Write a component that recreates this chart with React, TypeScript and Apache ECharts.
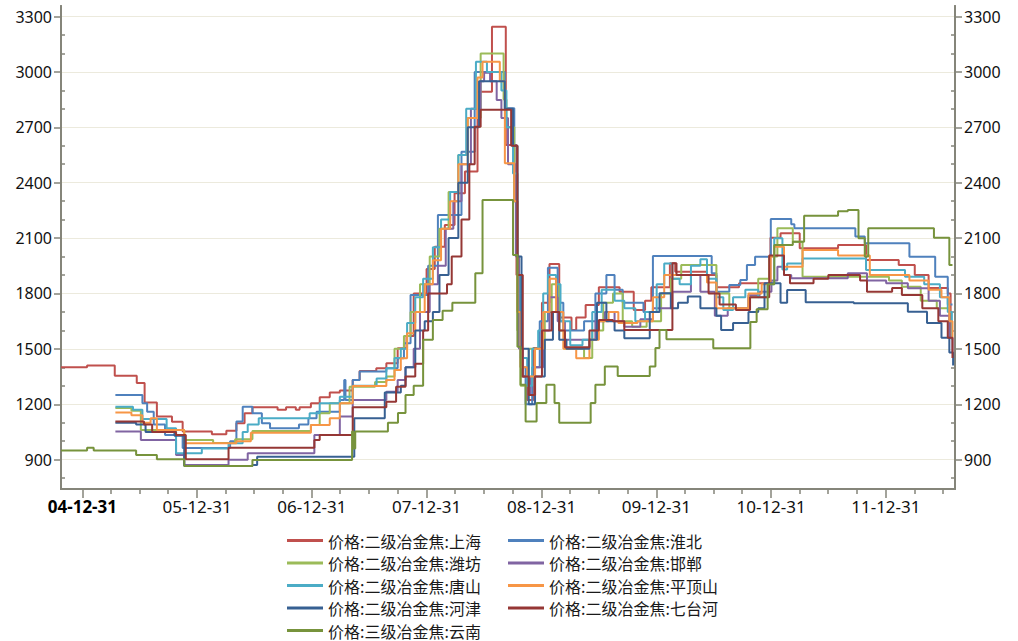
import React, { useEffect, useRef } from 'react';
import * as echarts from 'echarts';

type Pt = [string, number];

const seriesNames = [
  '价格:二级冶金焦:上海',
  '价格:二级冶金焦:淮北',
  '价格:二级冶金焦:潍坊',
  '价格:二级冶金焦:邯郸',
  '价格:二级冶金焦:唐山',
  '价格:二级冶金焦:平顶山',
  '价格:二级冶金焦:河津',
  '价格:二级冶金焦:七台河',
  '价格:三级冶金焦:云南',
];
const seriesColors = ['#C0504D', '#4F81BD', '#9BBB59', '#8064A2', '#4BACC6', '#F79646', '#376092', '#953735', '#77933C'];

const xStart = '2004-10-24';
const xEnd = '2012-08-07';
const xLabelDates = ['2004-12-31', '2005-12-31', '2006-12-31', '2007-12-31', '2008-12-31', '2009-12-31', '2010-12-31', '2011-12-31'];
const yLabelValues = [900, 1200, 1500, 1800, 2100, 2400, 2700, 3000, 3300];
const yMin = 741;
const yMax = 3357;

const shanghai: Pt[] = [
  ['2004-10-24', 1400], ['2005-01-15', 1410], ['2005-04-13', 1355], ['2005-06-22', 1315], ['2005-07-17', 1210],
  ['2005-08-25', 1133], ['2005-10-12', 1105], ['2005-11-15', 1052], ['2006-02-16', 1038], ['2006-04-03', 1057],
  ['2006-05-05', 1097], ['2006-05-31', 1151], ['2006-06-25', 1184], ['2006-09-13', 1170], ['2006-10-10', 1184],
  ['2006-11-10', 1170], ['2006-11-22', 1184], ['2006-12-28', 1205], ['2007-01-25', 1238], ['2007-02-26', 1263],
  ['2007-03-30', 1275], ['2007-05-10', 1332], ['2007-06-01', 1380], ['2007-07-24', 1395], ['2007-08-25', 1422],
  ['2007-09-30', 1503], ['2007-10-28', 1570], ['2007-11-20', 1800], ['2007-12-31', 1932], ['2008-01-26', 2053],
  ['2008-02-27', 2171], ['2008-03-29', 2343], ['2008-05-01', 2460], ['2008-06-10', 2893], ['2008-07-26', 3245],
  ['2008-09-08', 2604], ['2008-10-12', 1900], ['2008-10-28', 1350], ['2008-11-15', 1223], ['2008-12-05', 1505],
  ['2009-01-01', 1750], ['2009-01-25', 1960], ['2009-02-25', 1670], ['2009-04-05', 1602], ['2009-04-20', 1670],
  ['2009-05-20', 1738], ['2009-07-01', 1834], ['2009-09-05', 1810], ['2009-10-20', 1711], ['2009-11-25', 1760],
  ['2009-12-15', 1834], ['2010-02-12', 1964], ['2010-03-01', 1918], ['2010-06-10', 1900], ['2010-07-10', 1834],
  ['2010-09-20', 1855], ['2010-12-29', 2102], ['2011-01-30', 2126], ['2011-04-01', 2045], ['2011-08-01', 2062],
  ['2011-10-29', 1981], ['2012-02-10', 1954], ['2012-04-01', 1900], ['2012-05-15', 1830], ['2012-07-15', 1800],
  ['2012-07-24', 1560], ['2012-07-30', 1560],
];

const huaibei: Pt[] = [
  ['2005-04-15', 1250], ['2005-07-10', 1205], ['2005-07-25', 1160], ['2005-08-15', 1090], ['2005-09-20', 1034],
  ['2005-11-15', 963], ['2006-04-15', 1000], ['2006-05-05', 1106], ['2006-05-25', 1187], ['2006-06-25', 1151],
  ['2006-07-25', 1097], ['2006-08-20', 1070], ['2006-11-20', 1090], ['2006-12-20', 1124], ['2007-01-15', 1160],
  ['2007-03-30', 1223], ['2007-04-13', 1332], ['2007-04-17', 1223], ['2007-05-10', 1332], ['2007-06-01', 1377],
  ['2007-08-25', 1395], ['2007-09-30', 1449], ['2007-10-20', 1530], ['2007-11-10', 1792], ['2008-01-05', 1950],
  ['2008-02-05', 2225], ['2008-04-20', 2568], ['2008-06-01', 3000], ['2008-09-05', 2803], ['2008-10-05', 2300],
  ['2008-10-15', 1700], ['2008-10-25', 1400], ['2008-11-10', 1200], ['2008-12-01', 1400], ['2008-12-25', 1650],
  ['2009-01-20', 1940], ['2009-02-20', 1750], ['2009-03-10', 1600], ['2009-05-15', 1650], ['2009-06-20', 1800],
  ['2009-07-25', 1900], ['2009-08-20', 1820], ['2009-09-15', 1750], ['2009-11-20', 1700], ['2009-12-20', 2003],
  ['2010-06-25', 1909], ['2010-07-10', 1810], ['2010-08-20', 1846], ['2010-09-24', 1873], ['2010-10-15', 1954],
  ['2010-11-10', 1999], ['2010-12-30', 2203], ['2011-03-05', 2175], ['2011-03-15', 2153], ['2011-09-25', 2108],
  ['2011-10-25', 2072], ['2012-03-15', 1999], ['2012-06-05', 1890], ['2012-07-15', 1740], ['2012-07-30', 1740],
];

const weifang: Pt[] = [
  ['2005-04-15', 1180], ['2005-06-05', 1165], ['2005-07-05', 1060], ['2005-11-20', 1007], ['2006-02-20', 990],
  ['2006-05-01', 1010], ['2006-06-25', 1055], ['2006-12-28', 1088], ['2007-01-25', 1151], ['2007-02-26', 1205],
  ['2007-04-30', 1295], ['2007-07-20', 1320], ['2007-08-25', 1350], ['2007-09-20', 1500], ['2007-10-20', 1570],
  ['2007-11-10', 1700], ['2007-12-10', 1850], ['2008-01-10', 2000], ['2008-02-10', 2150], ['2008-03-10', 2350],
  ['2008-04-10', 2550], ['2008-05-10', 2750], ['2008-06-20', 3100], ['2008-09-01', 2850], ['2008-09-10', 2700],
  ['2008-10-05', 2300], ['2008-10-15', 1600], ['2008-10-25', 1300], ['2008-11-20', 1500], ['2009-01-10', 1700],
  ['2009-02-01', 1850], ['2009-02-25', 1600], ['2009-03-15', 1500], ['2009-05-15', 1450], ['2009-06-10', 1600],
  ['2009-07-15', 1750], ['2009-08-15', 1800], ['2009-09-15', 1650], ['2009-10-15', 1620], ['2009-11-30', 1650],
  ['2010-01-15', 1800], ['2010-02-15', 1880], ['2010-03-20', 1954], ['2010-06-20', 1954], ['2010-07-10', 1800],
  ['2010-08-20', 1720], ['2010-10-20', 1780], ['2010-11-20', 1880], ['2010-12-25', 2000], ['2011-01-20', 2153],
  ['2011-03-10', 2080], ['2011-04-10', 1891], ['2011-11-10', 1890], ['2012-01-10', 1870], ['2012-02-20', 1837],
  ['2012-04-20', 1760], ['2012-06-10', 1720], ['2012-07-20', 1650], ['2012-07-28', 1580], ['2012-07-30', 1580],
];

const handan: Pt[] = [
  ['2005-04-15', 1052], ['2005-07-05', 1007], ['2005-10-25', 925], ['2005-11-20', 871], ['2006-04-10', 900],
  ['2006-06-10', 935], ['2007-01-08', 1034], ['2007-03-30', 1133], ['2007-05-10', 1223], ['2007-08-25', 1268],
  ['2007-09-30', 1332], ['2007-10-25', 1400], ['2007-11-20', 1500], ['2007-12-10', 1700], ['2008-01-10', 1850],
  ['2008-02-05', 1950], ['2008-03-01', 2150], ['2008-03-25', 2300], ['2008-04-20', 2500], ['2008-05-20', 2800],
  ['2008-06-20', 2950], ['2008-07-01', 2995], ['2008-07-20', 2950], ['2008-08-10', 2848], ['2008-08-25', 2750],
  ['2008-09-15', 2500], ['2008-10-10', 2000], ['2008-10-20', 1500], ['2008-11-01', 1350], ['2008-11-25', 1250],
  ['2008-12-10', 1400], ['2009-01-05', 1600], ['2009-01-25', 1780], ['2009-02-20', 1650], ['2009-03-15', 1550],
  ['2009-06-20', 1650], ['2009-07-20', 1700], ['2009-08-20', 1650], ['2009-09-20', 1620], ['2009-11-10', 1660],
  ['2009-12-20', 1720], ['2010-02-20', 1810], ['2010-04-20', 1900], ['2010-05-20', 1810], ['2010-07-05', 1680],
  ['2010-08-15', 1720], ['2010-10-20', 1790], ['2010-11-25', 1810], ['2011-01-01', 1870], ['2011-01-20', 1945],
  ['2011-02-10', 1900], ['2011-03-05', 1882], ['2011-09-01', 1909], ['2011-11-01', 1870], ['2012-01-01', 1855],
  ['2012-03-10', 1828], ['2012-05-15', 1760], ['2012-06-20', 1680], ['2012-07-20', 1560], ['2012-07-30', 1480],
];

const tangshan: Pt[] = [
  ['2005-04-15', 1187], ['2005-06-10', 1170], ['2005-07-10', 1120], ['2005-09-25', 1070], ['2005-10-25', 935],
  ['2006-01-15', 960], ['2006-04-10', 989], ['2006-05-25', 1050], ['2006-06-10', 1090], ['2006-07-15', 1124],
  ['2006-12-24', 1151], ['2007-01-25', 1205], ['2007-03-30', 1240], ['2007-05-10', 1300], ['2007-07-25', 1340],
  ['2007-08-25', 1395], ['2007-09-20', 1450], ['2007-10-10', 1500], ['2007-10-30', 1640], ['2007-11-25', 1780],
  ['2007-12-20', 1880], ['2008-01-20', 2050], ['2008-02-15', 2200], ['2008-03-15', 2350], ['2008-04-10', 2550],
  ['2008-05-05', 2800], ['2008-06-05', 3055], ['2008-07-10', 3000], ['2008-08-25', 2900], ['2008-09-10', 2700],
  ['2008-10-01', 2450], ['2008-10-15', 1900], ['2008-10-25', 1450], ['2008-11-15', 1300], ['2008-12-01', 1500],
  ['2008-12-20', 1600], ['2009-01-05', 1800], ['2009-01-20', 1900], ['2009-02-15', 1850], ['2009-03-01', 1650],
  ['2009-04-01', 1520], ['2009-05-10', 1550], ['2009-06-10', 1700], ['2009-07-10', 1820], ['2009-08-20', 1760],
  ['2009-09-20', 1720], ['2009-10-25', 1650], ['2009-11-25', 1700], ['2010-01-01', 1850], ['2010-01-25', 1963],
  ['2010-02-20', 1880], ['2010-03-15', 1850], ['2010-04-20', 1950], ['2010-05-20', 1985], ['2010-06-10', 1880],
  ['2010-07-10', 1780], ['2010-08-01', 1711], ['2010-09-01', 1780], ['2010-10-10', 1820], ['2010-11-20', 1780],
  ['2010-12-20', 1850], ['2011-01-10', 2099], ['2011-02-05', 1930], ['2011-02-20', 1963], ['2011-04-10', 1990],
  ['2011-10-15', 1990], ['2011-10-29', 1927], ['2012-03-01', 1890], ['2012-05-01', 1850], ['2012-06-20', 1780],
  ['2012-07-15', 1700], ['2012-07-28', 1550], ['2012-07-30', 1550],
];

const pingdingshan: Pt[] = [
  ['2005-04-15', 1155], ['2005-06-05', 1140], ['2005-07-10', 1100], ['2005-08-05', 1124], ['2005-08-25', 1061],
  ['2005-11-20', 989], ['2006-05-05', 1000], ['2006-06-20', 1046], ['2006-12-28', 1088], ['2007-02-26', 1124],
  ['2007-03-30', 1205], ['2007-05-10', 1299], ['2007-08-25', 1332], ['2007-09-20', 1386], ['2007-10-10', 1449],
  ['2007-10-30', 1584], ['2007-11-25', 1700], ['2007-12-25', 1850], ['2008-01-20', 1980], ['2008-02-15', 2150],
  ['2008-03-15', 2300], ['2008-04-10', 2500], ['2008-05-10', 2750], ['2008-06-10', 2970], ['2008-06-26', 3055],
  ['2008-08-20', 2950], ['2008-09-05', 2505], ['2008-10-05', 2300], ['2008-10-15', 1700], ['2008-10-25', 1400],
  ['2008-11-15', 1350], ['2008-12-10', 1500], ['2009-01-05', 1700], ['2009-01-25', 1880], ['2009-02-15', 1700],
  ['2009-03-10', 1500], ['2009-04-20', 1449], ['2009-06-01', 1550], ['2009-07-01', 1650], ['2009-08-01', 1700],
  ['2009-09-01', 1640], ['2009-11-01', 1650], ['2009-12-20', 1780], ['2010-01-25', 1900], ['2010-06-10', 1860],
  ['2010-07-10', 1720], ['2010-09-01', 1720], ['2010-10-20', 1800], ['2010-12-01', 1850], ['2010-12-29', 2000],
  ['2011-01-10', 2053], ['2011-02-10', 1945], ['2011-04-10', 2036], ['2011-08-01', 2005], ['2011-11-10', 1900],
  ['2012-03-15', 1870], ['2012-05-15', 1820], ['2012-06-25', 1780], ['2012-07-20', 1650], ['2012-07-30', 1560],
];

const hejin: Pt[] = [
  ['2005-04-15', 1100], ['2005-06-20', 1090], ['2005-07-20', 1050], ['2005-10-20', 1030], ['2005-11-20', 866],
  ['2006-06-25', 871], ['2006-07-10', 916], ['2007-05-08', 916], ['2007-05-15', 1124], ['2007-08-20', 1263],
  ['2007-10-10', 1300], ['2007-10-25', 1400], ['2007-11-25', 1600], ['2007-12-25', 1650], ['2008-01-20', 1700],
  ['2008-02-10', 1900], ['2008-03-10', 2100], ['2008-04-10', 2400], ['2008-05-10', 2700], ['2008-06-15', 2950],
  ['2008-09-05', 2800], ['2008-10-01', 2600], ['2008-10-15', 2000], ['2008-10-28', 1500], ['2008-11-20', 1200],
  ['2008-12-10', 1350], ['2009-01-10', 1550], ['2009-02-05', 1700], ['2009-02-25', 1550], ['2009-03-20', 1500],
  ['2009-06-01', 1550], ['2009-06-25', 1750], ['2009-07-25', 1650], ['2009-08-20', 1600], ['2009-09-20', 1557],
  ['2009-12-10', 1700], ['2010-01-10', 1801], ['2010-02-15', 1720], ['2010-03-10', 1750], ['2010-04-10', 1783],
  ['2010-05-20', 1720], ['2010-07-10', 1680], ['2010-07-25', 1602], ['2010-09-01', 1640], ['2010-10-20', 1700],
  ['2010-11-20', 1720], ['2010-12-10', 1855], ['2011-01-30', 1750], ['2011-02-20', 1819], ['2011-04-20', 1752],
  ['2011-09-20', 1747], ['2012-03-10', 1701], ['2012-05-10', 1640], ['2012-06-25', 1560], ['2012-07-20', 1480],
  ['2012-08-01', 1410],
];

const qitaihe: Pt[] = [
  ['2005-04-15', 1106], ['2005-07-15', 1090], ['2005-08-10', 1050], ['2005-10-25', 1034], ['2005-11-25', 902],
  ['2006-04-10', 965], ['2007-01-08', 1007], ['2007-01-25', 1034], ['2007-05-10', 1184], ['2007-08-25', 1214],
  ['2007-09-25', 1295], ['2007-10-25', 1350], ['2007-11-25', 1420], ['2007-12-20', 1600], ['2008-01-05', 1800],
  ['2008-03-05', 1850], ['2008-03-20', 2000], ['2008-04-20', 2200], ['2008-05-15', 2500], ['2008-06-01', 2703],
  ['2008-06-20', 2795], ['2008-09-05', 2795], ['2008-09-25', 2600], ['2008-10-15', 1900], ['2008-11-01', 1350],
  ['2008-11-20', 1250], ['2008-12-10', 1350], ['2009-01-01', 1600], ['2009-02-01', 1700], ['2009-02-25', 1600],
  ['2009-03-15', 1509], ['2009-05-25', 1509], ['2009-06-01', 1600], ['2009-07-01', 1656], ['2009-08-15', 1650],
  ['2009-09-20', 1602], ['2010-02-20', 1964], ['2010-03-05', 1900], ['2010-06-15', 1800], ['2010-07-20', 1740],
  ['2010-09-10', 1711], ['2010-10-25', 1780], ['2010-12-25', 2005], ['2011-02-10', 1900], ['2011-03-01', 1855],
  ['2011-05-15', 1880], ['2011-07-01', 1900], ['2011-10-10', 1870], ['2011-11-01', 1810], ['2012-01-20', 1830],
  ['2012-02-20', 1792], ['2012-04-25', 1720], ['2012-06-15', 1650], ['2012-07-15', 1560], ['2012-07-30', 1450],
];

const yunnan: Pt[] = [
  ['2004-10-24', 950], ['2005-01-15', 965], ['2005-02-05', 950], ['2005-06-20', 925], ['2005-08-25', 902],
  ['2005-11-20', 866], ['2006-06-25', 898], ['2007-05-08', 1052], ['2007-05-12', 960], ['2007-05-18', 1052],
  ['2007-08-30', 1100], ['2007-10-01', 1153], ['2007-10-25', 1250], ['2007-11-20', 1300], ['2007-12-20', 1550],
  ['2008-01-20', 1656], ['2008-02-20', 1707], ['2008-03-22', 1750], ['2008-06-03', 1910], ['2008-06-26', 2306],
  ['2008-10-01', 2008], ['2008-10-15', 1512], ['2008-10-25', 1305], ['2008-11-10', 1106], ['2008-12-15', 1207],
  ['2009-01-15', 1305], ['2009-02-10', 1207], ['2009-02-25', 1100], ['2009-06-05', 1207], ['2009-06-20', 1305],
  ['2009-07-20', 1404], ['2009-08-30', 1353], ['2009-12-10', 1404], ['2009-12-28', 1505], ['2010-01-10', 1602],
  ['2010-02-01', 1552], ['2010-06-30', 1503], ['2010-10-26', 1645], ['2010-11-15', 1714], ['2010-12-20', 1850],
  ['2011-01-10', 2062], ['2011-03-10', 2080], ['2011-04-15', 2221], ['2011-08-01', 2245], ['2011-09-01', 2252],
  ['2011-10-05', 2099], ['2011-10-25', 2000], ['2011-11-05', 2153], ['2012-06-01', 2102], ['2012-07-20', 1954],
  ['2012-07-30', 1954],
];

const seriesData: Pt[][] = [shanghai, huaibei, weifang, handan, tangshan, pingdingshan, hejin, qitaihe, yunnan];

const toTs = (s: string) => {
  const [y, m, d] = s.split('-').map(Number);
  return Date.UTC(y, m - 1, d);
};

const fmtDate = (v: number) => {
  const d = new Date(v);
  const yy = String(d.getUTCFullYear() % 100).padStart(2, '0');
  const mm = String(d.getUTCMonth() + 1).padStart(2, '0');
  const dd = String(d.getUTCDate()).padStart(2, '0');
  return `${yy}-${mm}-${dd}`;
};

export default function App() {
  const ref = useRef<HTMLDivElement>(null);
  useEffect(() => {
    if (!ref.current) return;
    const chart = echarts.init(ref.current, null, { renderer: 'svg' });
    const axisColor = '#85857A';
    const minorX: number[] = [];
    for (let y = 2005; y <= 2012; y++) {
      ['03-31', '06-30', '09-30'].forEach((md) => minorX.push(toTs(`${y}-${md}`)));
    }
    const minorY: number[] = [];
    for (let v = 800; v <= 3300; v += 100) if (v % 300 !== 0) minorY.push(v);
    const majorX = xLabelDates.map(toTs);
    const xMin = toTs(xStart);
    const xMax = toTs(xEnd);

    const baseY = (pos: 'left' | 'right', major: boolean) => ({
      type: 'value',
      position: pos,
      min: yMin,
      max: yMax,
      axisLine: { show: true, lineStyle: { color: axisColor, width: 2 } },
      axisTick: major
        ? { show: true, inside: false, length: 7, customValues: yLabelValues, lineStyle: { color: axisColor, width: 1.5 } }
        : { show: true, inside: true, length: 4, customValues: minorY, lineStyle: { color: axisColor, width: 1.5 } },
      axisLabel: major
        ? {
            show: true,
            customValues: yLabelValues,
            margin: 9,
            color: '#111',
            fontSize: 16,
            fontFamily: 'Noto Sans',
            formatter: (v: number) => String(v),
          }
        : { show: false },
      splitLine: major && pos === 'left'
        ? { show: true, lineStyle: { color: '#ECEADD', width: 1 } }
        : { show: false },
    });

    const legendBase = {
      orient: 'vertical',
      top: 532,
      padding: 0,
      itemWidth: 36,
      itemHeight: 3,
      itemGap: 5.5,
      height: 109,
      icon: 'rect',
      textStyle: { fontSize: 16, lineHeight: 17, color: '#1a1a1a', fontFamily: 'Noto Sans CJK SC' },
    };

    const option: any = {
      animation: false,
      backgroundColor: '#ffffff',
      grid: { left: 61, right: 63, top: 6, bottom: 152, containLabel: false },
      xAxis: [
        {
          type: 'value',
          position: 'bottom',
          min: xMin,
          max: xMax,
          axisLine: { show: true, onZero: false, lineStyle: { color: axisColor, width: 2 } },
          axisTick: { show: true, length: 9, customValues: majorX, lineStyle: { color: axisColor, width: 1.5 } },
          axisLabel: {
            show: true,
            customValues: majorX,
            margin: 9,
            fontSize: 17,
            fontFamily: 'Noto Sans',
            color: '#111',
            formatter: (v: number) => {
              const s = fmtDate(v);
              return new Date(v).getUTCFullYear() === 2004 ? `{b|${s}}` : s;
            },
            rich: { b: { fontSize: 17, fontFamily: 'Noto Sans', fontWeight: 'bold', color: '#000' } },
          },
          splitLine: { show: false },
        },
        {
          type: 'value',
          position: 'bottom',
          min: xMin,
          max: xMax,
          axisLine: { show: false, onZero: false },
          axisTick: { show: true, length: 5, customValues: minorX, lineStyle: { color: axisColor, width: 1.5 } },
          axisLabel: { show: false },
          splitLine: { show: false },
        },
      ],
      yAxis: [baseY('left', true), baseY('left', false), baseY('right', true), baseY('right', false)],
      legend: [
        { ...legendBase, left: 287, data: [seriesNames[0], seriesNames[2], seriesNames[4], seriesNames[6], seriesNames[8]] },
        { ...legendBase, left: 508, data: [seriesNames[1], seriesNames[3], seriesNames[5], seriesNames[7]] },
      ],
      series: seriesNames.map((name, i) => ({
        name,
        type: 'line',
        step: 'end',
        xAxisIndex: 0,
        yAxisIndex: 0,
        showSymbol: false,
        symbol: 'none',
        color: seriesColors[i],
        lineStyle: { width: 2, color: seriesColors[i] },
        data: seriesData[i].map(([d, v]) => [toTs(d), v]),
      })),
    };
    chart.setOption(option);
    return () => chart.dispose();
  }, []);
  return <div ref={ref} style={{ position: 'fixed', left: 0, top: 0, width: 1018, height: 641, background: '#fff' }} />;
}
